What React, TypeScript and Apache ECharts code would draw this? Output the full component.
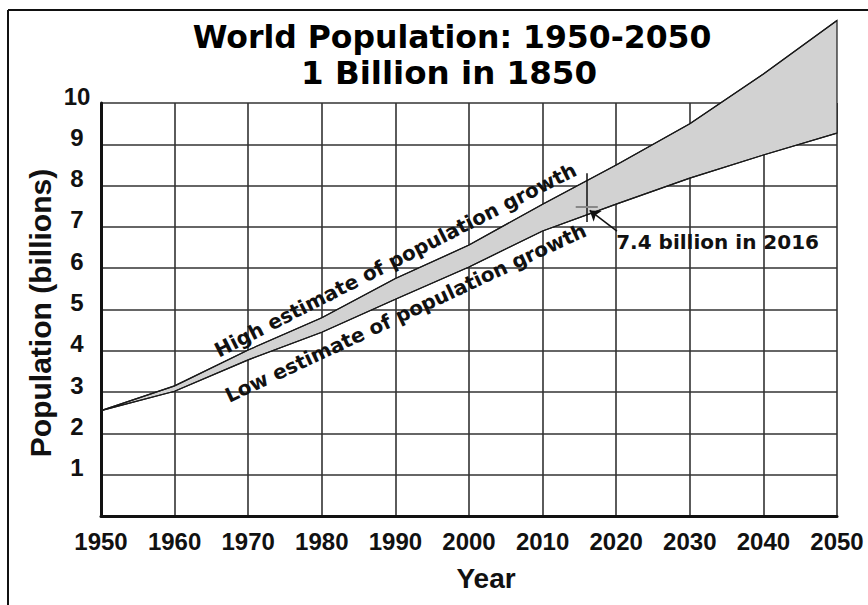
import React, { useEffect, useRef } from "react";
import * as echarts from "echarts";

const years = [1950, 1960, 1970, 1980, 1990, 2000, 2010, 2020, 2030, 2040, 2050];
const highEstimate = [2.55, 3.15, 4.02, 4.8, 5.75, 6.56, 7.55, 8.5, 9.5, 10.7, 12.0];
const lowEstimate = [2.55, 3.02, 3.78, 4.45, 5.25, 6.03, 6.9, 7.55, 8.18, 8.74, 9.27];
const markerYear = 2016;
const markerValue = 7.48;
const markerRange = [7.12, 8.3];
const titleLines = ["World Population: 1950-2050", "1 Billion in 1850"];
const highLabel = "High estimate of population growth";
const lowLabel = "Low estimate of population growth";
const noteLabel = "7.4 billion in 2016";

const BOLD_DV = "DejaVu Sans";
const BOLD_LS = "Liberation Sans";

export default function App() {
  const ref = useRef<HTMLDivElement>(null);
  useEffect(() => {
    if (!ref.current) return;
    const chart = echarts.init(ref.current, undefined, { renderer: "svg" });
    const option: any = {
      animation: false,
      backgroundColor: "#ffffff",
      grid: { left: 101, right: 31, top: 103, bottom: 89, containLabel: false },
      xAxis: {
        type: "value",
        min: 1950,
        max: 2050,
        interval: 10,
        axisLine: { show: true, onZero: false, lineStyle: { color: "#111", width: 3 } },
        axisTick: { show: false },
        splitLine: { show: true, lineStyle: { color: "#333", width: 1.6 } },
        axisLabel: {
          formatter: (v: number) => String(v),
          fontFamily: BOLD_LS,
          fontWeight: "bold",
          fontSize: 24,
          color: "#111",
          margin: 13,
        },
      },
      yAxis: {
        type: "value",
        min: 0,
        max: 10,
        interval: 1,
        axisLine: { show: true, onZero: false, lineStyle: { color: "#111", width: 3 } },
        axisTick: { show: false },
        splitLine: { show: true, lineStyle: { color: "#333", width: 1.6 } },
        axisLabel: {
          formatter: (v: number) => (v === 0 ? "" : String(v)),
          fontFamily: BOLD_LS,
          fontWeight: "bold",
          fontSize: 24,
          color: "#111",
          align: "center",
          verticalAlign: "bottom",
          lineHeight: 14,
          margin: 24,
        },
      },
      series: [
        {
          type: "custom",
          name: "Projection range",
          clip: false,
          z: 2,
          data: [[years[0], lowEstimate[0]]],
          renderItem: (params: any, api: any) => {
            const upper = years.map((y, i) => api.coord([y, highEstimate[i]]));
            const lower = years
              .map((y, i) => api.coord([y, lowEstimate[i]]))
              .reverse();
            return {
              type: "polygon",
              shape: { points: upper.concat(lower) },
              style: { fill: "#d2d2d2", stroke: "#1a1a1a", lineWidth: 1.2 },
            };
          },
        },
        {
          type: "line",
          name: "High estimate",
          clip: false,
          z: 3,
          symbol: "none",
          lineStyle: { color: "#1a1a1a", width: 1.2 },
          data: years.map((y, i) => [y, highEstimate[i]]),
          markPoint: {
            symbol: "circle",
            symbolSize: 0,
            label: {
              show: true,
              position: "inside",
              fontFamily: BOLD_DV,
              fontWeight: "bold",
              fontSize: 20,
              color: "#111",
            },
            data: [
              { coord: [1990.0, 6.2], label: { formatter: highLabel, rotate: 27 } },
              { coord: [1991.4, 4.92], label: { formatter: lowLabel, rotate: 25 } },
            ],
          },
        },
        {
          type: "line",
          name: "Low estimate",
          clip: false,
          z: 3,
          symbol: "none",
          lineStyle: { color: "#1a1a1a", width: 1.2 },
          data: years.map((y, i) => [y, lowEstimate[i]]),
          markLine: {
            silent: true,
            symbol: ["none", "none"],
            label: { show: false },
            data: [
              [
                { coord: [markerYear, markerRange[0]], lineStyle: { color: "#111", width: 1.5, type: "solid" } },
                { coord: [markerYear, markerRange[1]] },
              ],
              [
                { coord: [markerYear - 1.5, markerValue], lineStyle: { color: "#888", width: 2, type: "solid" } },
                { coord: [markerYear + 1.5, markerValue] },
              ],
              [
                { coord: [2020.1, 6.9], symbol: "none", lineStyle: { color: "#111", width: 1.5, type: "solid" } },
                { coord: [markerYear + 0.4, 7.4], symbol: "arrow", symbolSize: 10 },
              ],
            ],
          },
          markPoint: {
            symbol: "circle",
            symbolSize: 0,
            label: {
              show: true,
              position: "right",
              distance: 0,
              fontFamily: BOLD_DV,
              fontWeight: "bold",
              fontSize: 20,
              color: "#111",
            },
            data: [{ coord: [2020.0, 6.63], label: { formatter: noteLabel } }],
          },
        },
      ],
      graphic: [
        { type: "line", shape: { x1: 8, y1: 10, x2: 868, y2: 10 }, style: { stroke: "#111", lineWidth: 2 } },
        { type: "line", shape: { x1: 8, y1: 10, x2: 8, y2: 605 }, style: { stroke: "#111", lineWidth: 2 } },
        {
          type: "text",
          x: 452,
          y: 37,
          style: {
            text: titleLines[0],
            textAlign: "center",
            textVerticalAlign: "middle",
            fontFamily: BOLD_DV,
            fontWeight: "bold",
            fontSize: 31.5,
            fill: "#000",
          },
        },
        {
          type: "text",
          x: 449,
          y: 73,
          style: {
            text: titleLines[1],
            textAlign: "center",
            textVerticalAlign: "middle",
            fontFamily: BOLD_DV,
            fontWeight: "bold",
            fontSize: 32.5,
            fill: "#000",
          },
        },
        {
          type: "text",
          x: 40,
          y: 313,
          rotation: Math.PI / 2,
          style: {
            text: "Population (billions)",
            textAlign: "center",
            textVerticalAlign: "middle",
            fontFamily: BOLD_LS,
            fontWeight: "bold",
            fontSize: 30,
            fill: "#111",
          },
        },
        {
          type: "text",
          x: 486,
          y: 578,
          style: {
            text: "Year",
            textAlign: "center",
            textVerticalAlign: "middle",
            fontFamily: BOLD_LS,
            fontWeight: "bold",
            fontSize: 28,
            fill: "#111",
          },
        },
      ],
    };
    chart.setOption(option);
    return () => chart.dispose();
  }, []);
  return (
    <div
      ref={ref}
      style={{ position: "fixed", left: 0, top: 0, width: 868, height: 605, background: "#fff" }}
    />
  );
}
